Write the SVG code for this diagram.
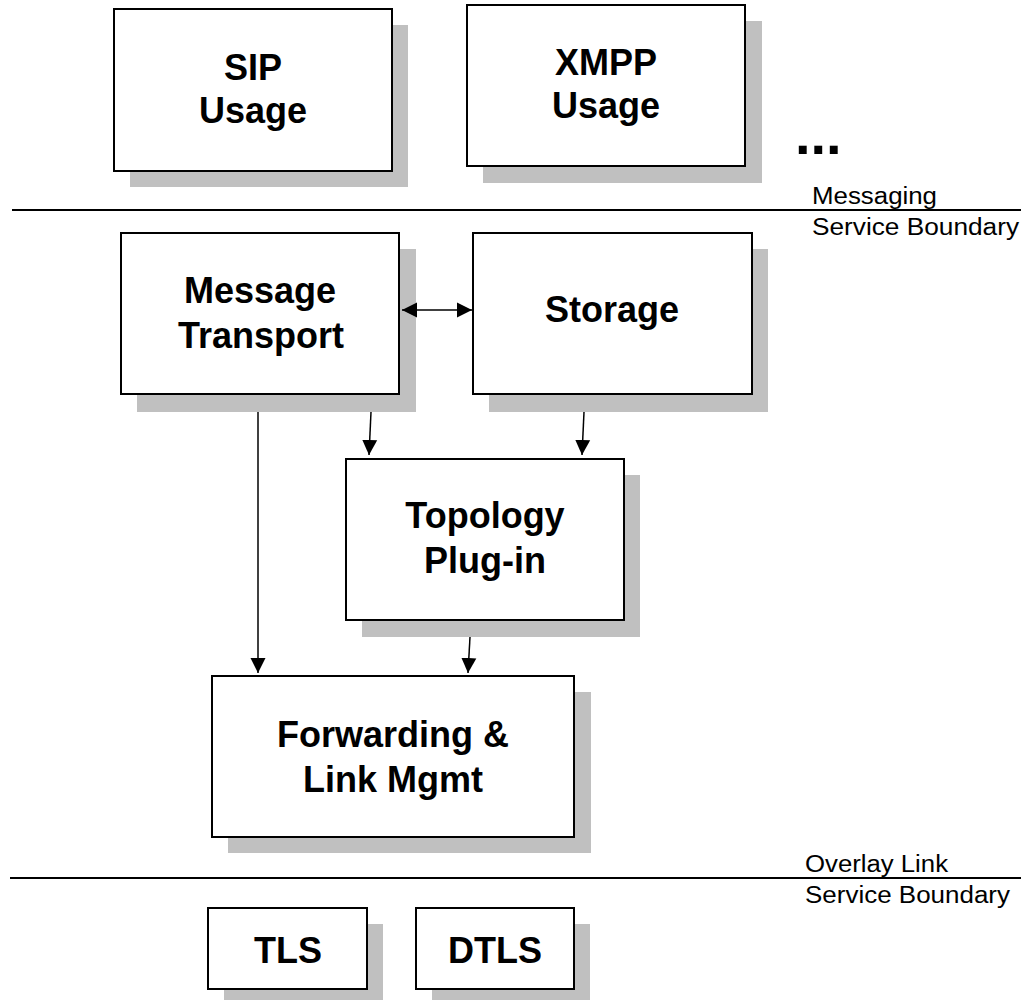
<svg xmlns="http://www.w3.org/2000/svg" width="1021" height="1000" viewBox="0 0 1021 1000">
<style>
.box{fill:#fff;stroke:#000;stroke-width:2}
.sh{fill:#c0c0c0}
.t{font-family:"Liberation Sans",Arial,sans-serif;font-weight:bold;font-size:36px;text-anchor:middle;fill:#000}
.lbl{font-family:"Liberation Sans",Arial,sans-serif;font-size:23px;fill:#000}
.bd{stroke:#000;stroke-width:2}
.c{stroke:#000;stroke-width:1.5;fill:none}
</style>
<defs>
<marker id="ah" markerUnits="userSpaceOnUse" markerWidth="16" markerHeight="16" viewBox="0 0 16 16" refX="15" refY="8" orient="auto">
<path d="M0,0.5 L15,8 L0,15.5 Z" fill="#000"/>
</marker>
<marker id="ahs" markerUnits="userSpaceOnUse" markerWidth="16" markerHeight="16" viewBox="0 0 16 16" refX="1" refY="8" orient="auto">
<path d="M16,0.5 L1,8 L16,15.5 Z" fill="#000"/>
</marker>
</defs>
<rect width="1021" height="1000" fill="#fff"/>
<g id="boundaries">
<line class="bd" x1="12" y1="210" x2="1021" y2="210"/>
<line class="bd" x1="10" y1="878" x2="1021" y2="878"/>
<text class="lbl" x="812" y="204" textLength="125" lengthAdjust="spacingAndGlyphs">Messaging</text>
<text class="lbl" x="812" y="235" textLength="207" lengthAdjust="spacingAndGlyphs">Service Boundary</text>
<text class="lbl" x="805" y="872" textLength="143" lengthAdjust="spacingAndGlyphs">Overlay Link</text>
<text class="lbl" x="805" y="903" textLength="205" lengthAdjust="spacingAndGlyphs">Service Boundary</text>
</g>
<g id="sip">
<rect class="sh" x="130" y="25" width="278" height="162"/>
<rect class="box" x="114" y="9" width="278" height="162"/>
<text class="t" x="253" y="80">SIP</text>
<text class="t" x="253" y="123">Usage</text>
</g>
<g id="xmpp">
<rect class="sh" x="483" y="21" width="279" height="162"/>
<rect class="box" x="467" y="5" width="278" height="161"/>
<text class="t" x="606" y="75">XMPP</text>
<text class="t" x="606" y="118">Usage</text>
</g>
<g id="ellipsis">
<text x="795" y="154" style="font-family:'Liberation Sans',Arial,sans-serif;font-weight:bold;font-size:56px;fill:#000">...</text>
</g>
<g id="message-transport">
<rect class="sh" x="137" y="249" width="279" height="163"/>
<rect class="box" x="121" y="233" width="278" height="161"/>
<text class="t" x="260" y="303">Message</text>
<text class="t" x="261" y="348">Transport</text>
</g>
<g id="storage">
<rect class="sh" x="489" y="249" width="279" height="163"/>
<rect class="box" x="473" y="233" width="279" height="161"/>
<text class="t" x="612" y="322">Storage</text>
</g>
<g id="topology">
<rect class="sh" x="362" y="475" width="278" height="162"/>
<rect class="box" x="346" y="459" width="278" height="161"/>
<text class="t" x="485" y="528">Topology</text>
<text class="t" x="485" y="573">Plug-in</text>
</g>
<g id="forwarding">
<rect class="sh" x="228" y="692" width="363" height="161"/>
<rect class="box" x="212" y="676" width="362" height="161"/>
<text class="t" x="393" y="747">Forwarding &amp;</text>
<text class="t" x="393" y="792">Link Mgmt</text>
</g>
<g id="tls">
<rect class="sh" x="224" y="924" width="159" height="90"/>
<rect class="box" x="208" y="908" width="159" height="81"/>
<text class="t" x="288" y="963">TLS</text>
</g>
<g id="dtls">
<rect class="sh" x="432" y="924" width="158" height="90"/>
<rect class="box" x="416" y="908" width="158" height="81"/>
<text class="t" x="495" y="963">DTLS</text>
</g>
<g id="connectors">
<line class="c" x1="258" y1="412" x2="258" y2="673" marker-end="url(#ah)"/>
<line class="c" x1="371" y1="412" x2="369" y2="455" marker-end="url(#ah)"/>
<line class="c" x1="584" y1="412" x2="582" y2="455" marker-end="url(#ah)"/>
<line class="c" x1="470" y1="637" x2="468" y2="673" marker-end="url(#ah)"/>
<line class="c" x1="402" y1="310" x2="472" y2="310" marker-start="url(#ahs)" marker-end="url(#ah)"/>
</g>
</svg>
